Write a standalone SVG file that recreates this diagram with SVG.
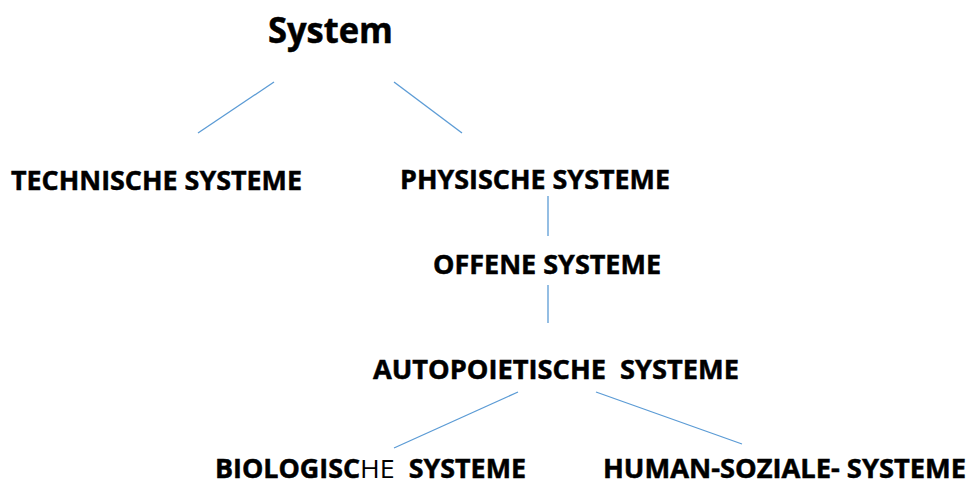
<svg xmlns="http://www.w3.org/2000/svg" width="968" height="486" viewBox="0 0 968 486">
<style>
text{font-family:"Open Sans","Liberation Sans",sans-serif;font-weight:700;fill:#000;stroke:#000;stroke-width:0.5;white-space:pre}
.t{font-size:27px}
.b{font-size:26px}
.n{font-weight:400;stroke:none}
.c line{stroke:#5B9BD5;stroke-width:1.3;fill:none}
</style>
<rect width="968" height="486" fill="#fff"/>
<g id="system"><text x="268" y="43" font-size="36" textLength="125" lengthAdjust="spacingAndGlyphs">System</text></g>
<g id="technische"><text class="t" x="11" y="189.5" textLength="291" lengthAdjust="spacingAndGlyphs">TECHNISCHE SYSTEME</text></g>
<g id="physische"><text class="t" x="400" y="188.5" textLength="270" lengthAdjust="spacingAndGlyphs">PHYSISCHE SYSTEME</text></g>
<g id="offene"><text class="t" x="433" y="273.5" textLength="228" lengthAdjust="spacingAndGlyphs">OFFENE SYSTEME</text></g>
<g id="autopoietische"><text class="t" x="373" y="379" textLength="366" lengthAdjust="spacingAndGlyphs">AUTOPOIETISCHE  SYSTEME</text></g>
<g id="biologische"><text class="b" x="215" y="478" textLength="311" lengthAdjust="spacingAndGlyphs">BIOLOGISC<tspan class="n">HE</tspan>  SYSTEME</text></g>
<g id="humansoziale"><text class="b" x="603" y="478" textLength="363" lengthAdjust="spacingAndGlyphs">HUMAN-SOZIALE- SYSTEME</text></g>
<g id="connectors" class="c">
<line x1="274" y1="82" x2="198" y2="133"/>
<line x1="394" y1="82" x2="462" y2="133"/>
<line x1="548" y1="196" x2="548" y2="236"/>
<line x1="548" y1="285" x2="548" y2="323"/>
<line x1="518" y1="392" x2="394" y2="448"/>
<line x1="596" y1="392" x2="742" y2="444"/>
</g>
</svg>
